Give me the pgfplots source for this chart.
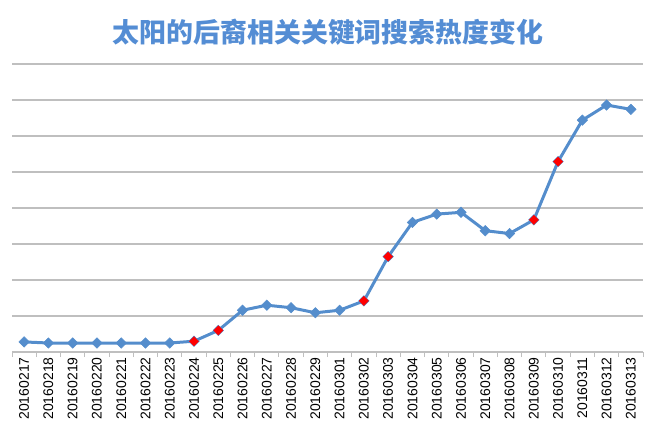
\documentclass[border=0pt]{standalone}
\usepackage{pgfplots}
\pgfplotsset{compat=1.18}
\usepackage{fontspec}
\setmainfont{Liberation Sans}
\newfontfamily\cjk{Noto Sans CJK SC}
\definecolor{ttl}{RGB}{84,141,212}
\definecolor{ln}{RGB}{84,141,204}
\definecolor{grd}{RGB}{191,191,191}
\begin{document}
\begin{tikzpicture}[x=1bp,y=1bp]
\useasboundingbox (0,0) rectangle (658,428);
\node[font=\cjk\bfseries\fontsize{27}{32}\selectfont, text=ttl] at (328,396) {太阳的后裔相关关键词搜索热度变化};
\begin{axis}[
  at={(12bp,76bp)}, anchor=south west,
  scale only axis, width=631bp, height=288bp,
  xmin=-0.5, xmax=25.5, ymin=0, ymax=8,
  axis x line*=bottom, axis y line*=left,
  x axis line style={draw=grd, line width=1.5bp, -},
  y axis line style={draw=none},
  xtick={0,...,25},
  xticklabels={20160217,20160218,20160219,20160220,20160221,20160222,20160223,20160224,20160225,20160226,20160227,20160228,20160229,20160301,20160302,20160303,20160304,20160305,20160306,20160307,20160308,20160309,20160310,20160311,20160312,20160313},
  xticklabel style={rotate=90, anchor=east, font=\fontsize{14}{16}\selectfont, inner sep=1bp},
  major x tick style={draw=none},
  minor xtick={-0.5,0.5,...,25.5},
  minor x tick style={draw=grd, line width=1bp},
  minor tick length=5bp,
  tick align=outside,
  ytick={1,...,8},
  yticklabels={},
  major y tick style={draw=none},
  ymajorgrids,
  y grid style={draw=grd, line width=1.5bp},
  clip=false,
]
\addplot[ln, line width=3bp, mark=square*, mark size=3.7bp, mark options={fill=ln, draw=ln, line width=0.5bp, rotate=45}]
coordinates {
(0,0.28) (1,0.25) (2,0.25) (3,0.25) (4,0.25) (5,0.25) (6,0.25) (7,0.30) (8,0.60) (9,1.16)
(10,1.30) (11,1.23) (12,1.09) (13,1.16) (14,1.42) (15,2.65) (16,3.60) (17,3.83) (18,3.88) (19,3.37)
(20,3.29) (21,3.67) (22,5.29) (23,6.44) (24,6.86) (25,6.74)
};
\addplot[only marks, mark=square*, mark size=3.3bp, mark options={fill=red, draw=red, line width=0.3bp, rotate=45}]
coordinates {(7,0.30) (8,0.60) (14,1.42) (15,2.65) (21,3.67) (22,5.29)};
\end{axis}
\end{tikzpicture}
\end{document}
